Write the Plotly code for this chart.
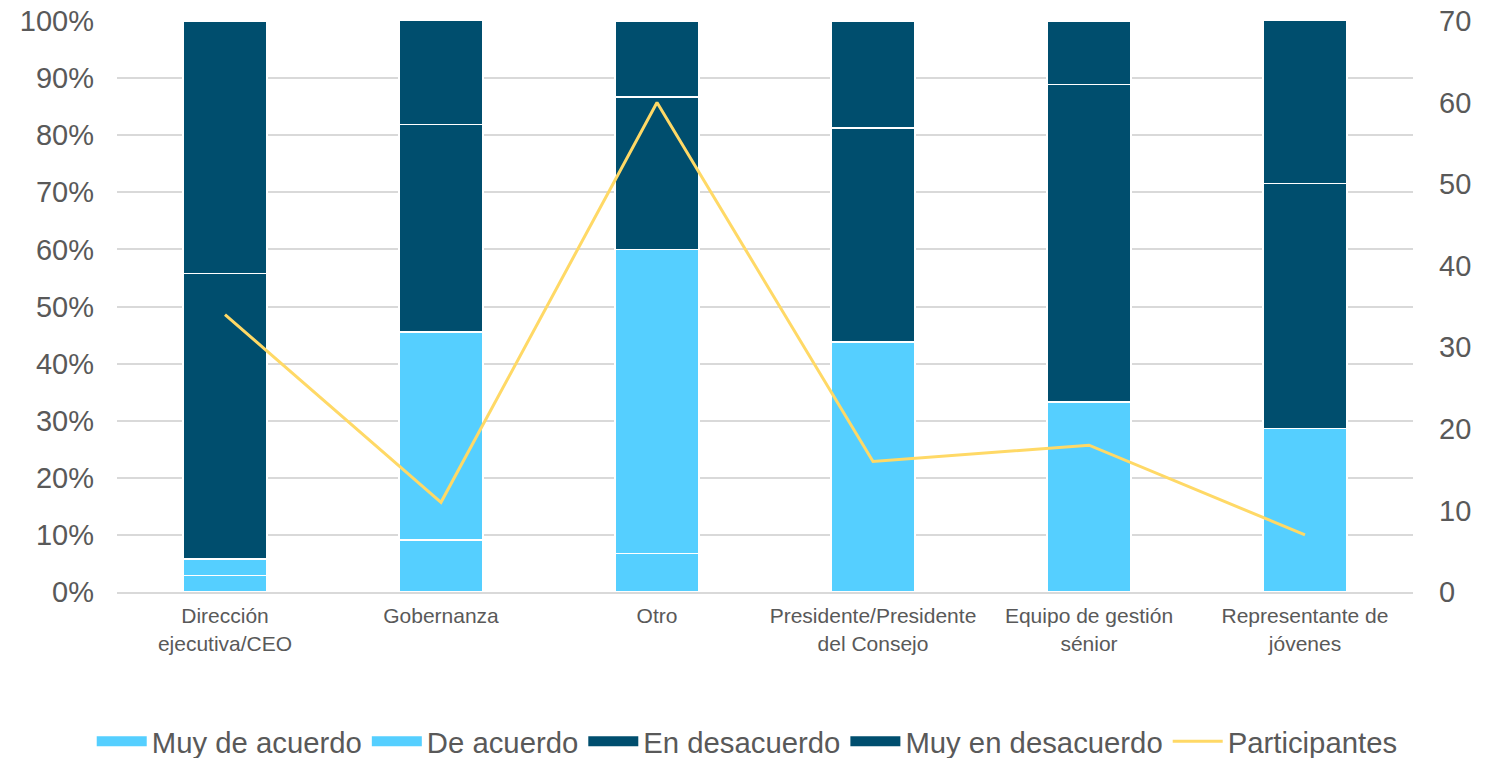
import plotly.graph_objects as go

categories = ["Dirección<br>ejecutiva/CEO", "Gobernanza", "Otro",
              "Presidente/Presidente<br>del Consejo", "Equipo de gestión<br>sénior",
              "Representante de<br>jóvenes"]
muy_de_acuerdo = [2.9, 9.1, 6.7, 0.0, 0.0, 0.0]
de_acuerdo = [2.9, 36.4, 53.3, 43.75, 33.3, 28.6]
en_desacuerdo = [50.0, 36.4, 26.7, 37.5, 55.6, 42.9]
muy_en_desacuerdo = [44.1, 18.2, 13.3, 18.75, 11.1, 28.6]
participantes = [34, 11, 60, 16, 18, 7]

light = "#55CFFF"
dark = "#004E6E"
yellow = "#FFD966"
font = "Liberation Sans, Arial, sans-serif"

fig = go.Figure()
for name, vals, col in [("Muy de acuerdo", muy_de_acuerdo, light),
                        ("De acuerdo", de_acuerdo, light),
                        ("En desacuerdo", en_desacuerdo, dark),
                        ("Muy en desacuerdo", muy_en_desacuerdo, dark)]:
    fig.add_trace(go.Bar(x=categories, y=vals, name=name, marker_color=col,
                         marker_line_color="white", marker_line_width=1.5,
                         legendgroup=name, showlegend=False))
    # legend-only entry drawn as a wide rectangle swatch
    fig.add_trace(go.Scatter(x=[None], y=[None], name=name, mode="lines",
                             line=dict(color=col, width=12), legendgroup=name))
fig.add_trace(go.Scatter(x=categories, y=participantes, name="Participantes",
                         mode="lines", line=dict(color=yellow, width=3), yaxis="y2"))

fig.update_layout(
    barmode="stack", bargap=0.61,
    width=1499, height=758,
    margin=dict(l=117, r=86, t=21, b=166, autoexpand=False),
    plot_bgcolor="white", paper_bgcolor="white",
    font=dict(family=font, color="#595959"),
    xaxis=dict(tickfont=dict(size=21, color="#595959"), showline=True,
               linecolor="#D9D9D9", linewidth=2, ticks="outside", ticklen=4,
               tickcolor="rgba(0,0,0,0)", automargin=False),
    yaxis=dict(range=[0, 100], dtick=10, ticksuffix="%", showgrid=True,
               gridcolor="#D9D9D9", gridwidth=1.5, zeroline=False,
               tickfont=dict(size=29, color="#595959"), ticklabelstandoff=22,
               automargin=False, ticklabeloverflow="allow"),
    yaxis2=dict(range=[0, 70], dtick=10, overlaying="y", side="right",
                showgrid=False, zeroline=False, ticklabelstandoff=25,
                tickfont=dict(size=29, color="#595959"), automargin=False,
                ticklabeloverflow="allow"),
    legend=dict(orientation="h", x=-0.0195, xanchor="left",
                y=-0.262, yanchor="middle",
                font=dict(size=29.3, color="#595959"), traceorder="normal",
                itemwidth=50, tracegroupgap=0),
    showlegend=True,
)
# remove the browser's default 8px body margin so the figure fills the window
fig.write_html("out.html", config={"displayModeBar": False},
               post_script="document.body.style.margin='0';document.body.style.overflow='hidden';")
